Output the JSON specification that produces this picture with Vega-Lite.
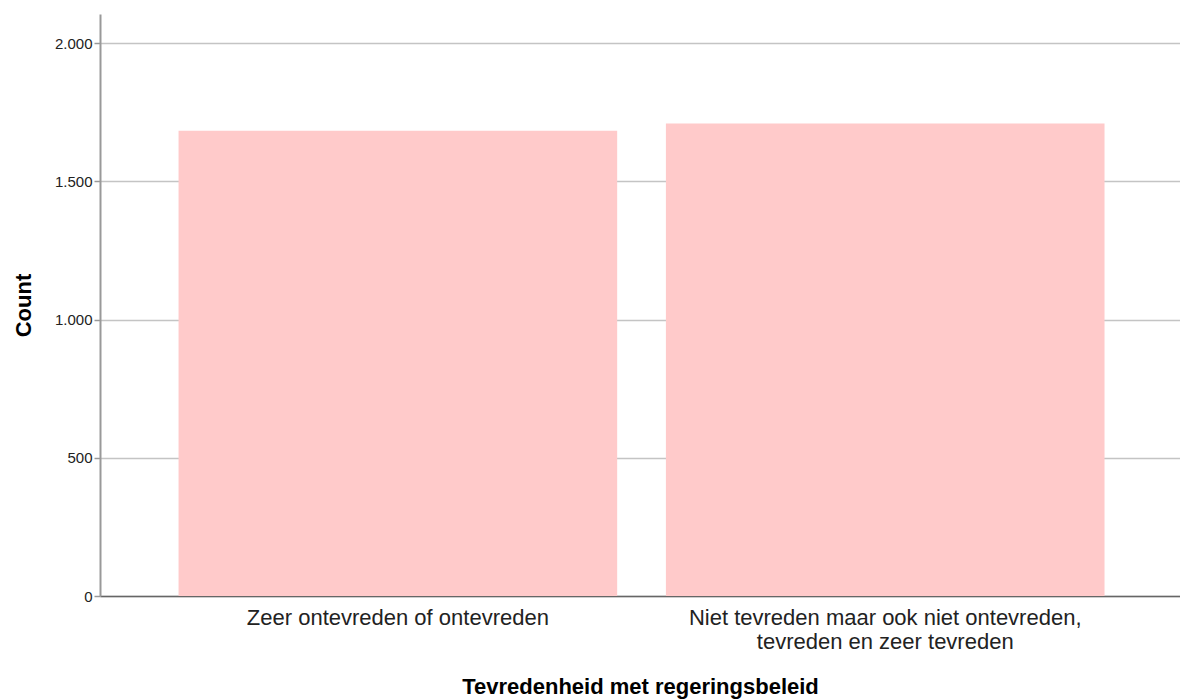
{
  "$schema": "https://vega.github.io/schema/vega-lite/v6.json",
  "width": 1080,
  "height": 582,
  "autosize": {"type": "none"},
  "padding": {"left": 100, "top": 14, "right": 0, "bottom": 104},
  "background": "white",
  "config": {
    "view": {"stroke": null},
    "font": "Liberation Sans"
  },
  "data": {
    "values": [
      {"categorie": "Zeer ontevreden of ontevreden", "count": 1683},
      {"categorie": "Niet tevreden maar ook niet ontevreden, tevreden en zeer tevreden", "count": 1709}
    ]
  },
  "mark": {"type": "bar", "color": "#ffcaca"},
  "encoding": {
    "x": {
      "field": "categorie",
      "type": "nominal",
      "sort": null,
      "scale": {"paddingInner": 0.1, "paddingOuter": 0.158, "align": 0.51},
      "axis": {
        "title": "Tevredenheid met regeringsbeleid",
        "titleFont": "Liberation Sans",
        "titleFontSize": 22,
        "titleFontWeight": "bold",
        "titleColor": "#000000",
        "titlePadding": 24,
        "labelAngle": 0,
        "labelFont": "Liberation Sans",
        "labelFontSize": 22,
        "labelColor": "#222222",
        "labelLimit": 1000,
        "labelLineHeight": 24,
        "labelPadding": 11,
        "labelExpr": "datum.label == 'Niet tevreden maar ook niet ontevreden, tevreden en zeer tevreden' ? ['Niet tevreden maar ook niet ontevreden,', 'tevreden en zeer tevreden'] : datum.label",
        "ticks": false,
        "domainColor": "#666666",
        "domainWidth": 1.5,
        "grid": false
      }
    },
    "y": {
      "field": "count",
      "type": "quantitative",
      "scale": {"domain": [0, 2105], "nice": false},
      "axis": {
        "title": "Count",
        "titleFont": "Liberation Sans",
        "titleFontSize": 22,
        "titleFontWeight": "bold",
        "titleColor": "#000000",
        "titlePadding": 19,
        "values": [0, 500, 1000, 1500, 2000],
        "labelExpr": "replace(format(datum.value, ','), ',', '.')",
        "labelFont": "Liberation Sans",
        "labelFontSize": 15,
        "labelColor": "#222222",
        "labelPadding": 2,
        "tickSize": 6,
        "tickColor": "#999999",
        "tickWidth": 1.5,
        "domainColor": "#999999",
        "domainWidth": 2,
        "grid": true,
        "gridColor": "#c4c4c4",
        "gridWidth": 1.5
      }
    }
  }
}
